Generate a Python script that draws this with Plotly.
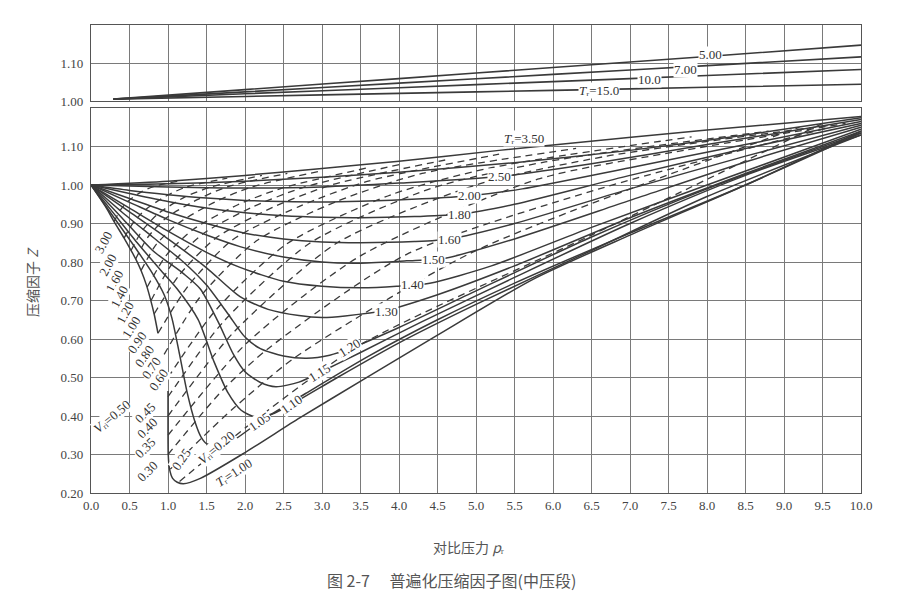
import plotly.graph_objects as go

# ---------------- data ----------------
x_tick_vals = [0.0, 0.5, 1.0, 1.5, 2.0, 2.5, 3.0, 3.5, 4.0, 4.5, 5.0, 5.5, 6.0, 6.5, 7.0, 7.5, 8.0, 8.5, 9.0, 9.5, 10.0]
x_tick_text = ["0.0", "0.5", "1.0", "1.5", "2.0", "2.5", "3.0", "3.5", "4.0", "4.5", "5.0", "5.5", "6.0", "6.5", "7.0", "7.5", "8.0", "8.5", "9.0", "9.5", "10.0"]
y_tick_vals = [0.2, 0.3, 0.4, 0.5, 0.6, 0.7, 0.8, 0.9, 1.0, 1.1]
y_tick_text = ["0.20", "0.30", "0.40", "0.50", "0.60", "0.70", "0.80", "0.90", "1.00", "1.10"]
y2_tick_vals = [1.0, 1.1]
y2_tick_text = ["1.00", "1.10"]

# upper panel: high reduced temperatures
top_pr = [0.29, 2.0, 4.0, 6.0, 8.0, 10.0]
top_tr500 = [1.005, 1.030, 1.059, 1.088, 1.117, 1.147]
top_tr700 = [1.005, 1.024, 1.047, 1.070, 1.093, 1.116]
top_tr1000 = [1.005, 1.019, 1.035, 1.051, 1.067, 1.083]
top_tr1500 = [1.005, 1.012, 1.020, 1.028, 1.036, 1.044]

# lower panel: isotherms (solid)
tr100_pr = [0, 0.2, 0.3, 0.43, 0.52, 0.58, 0.65, 0.72, 0.77, 0.82, 0.87, None,
            1.0, 1.0, 1.003, 1.02, 1.06, 1.12, 1.2, 1.42, 2.0, 2.71, 3.54, 4.5, 5.74, 7.0, 8.5, 10.0]
tr100_z = [1.0, 0.94, 0.905, 0.862, 0.83, 0.808, 0.778, 0.74, 0.705, 0.665, 0.615, None,
           0.465, 0.37, 0.3, 0.262, 0.238, 0.228, 0.224, 0.238, 0.305, 0.395, 0.495, 0.61, 0.755, 0.87, 1.0, 1.14]
tr105_pr = [0, 0.3, 0.6, 0.8, 0.95, 1.05, 1.15, 1.25, 1.35, 1.43, 1.5, 1.65, 1.85, 2.19, 2.8, 3.6, 4.5, 5.5, 7.0, 8.5, 10.0]
tr105_z = [1.0, 0.915, 0.83, 0.77, 0.715, 0.655, 0.56, 0.46, 0.385, 0.345, 0.328, 0.322, 0.337, 0.385, 0.46, 0.555, 0.65, 0.745, 0.875, 1.0, 1.135]
tr110_pr = [0, 0.3, 0.6, 0.9, 1.12, 1.39, 1.6, 1.78, 1.95, 2.13, 2.35, 2.6, 3.2, 4.0, 5.0, 6.5, 8.0, 10.0]
tr110_z = [1.0, 0.925, 0.85, 0.78, 0.73, 0.651, 0.54, 0.46, 0.415, 0.398, 0.405, 0.43, 0.5, 0.59, 0.69, 0.83, 0.97, 1.13]
tr115_pr = [0, 0.4, 0.8, 1.2, 1.42, 1.65, 1.85, 2.0, 2.2, 2.4, 2.7, 2.97, 3.5, 4.3, 5.5, 7.0, 8.5, 10.0]
tr115_z = [1.0, 0.915, 0.83, 0.77, 0.73, 0.645, 0.56, 0.515, 0.487, 0.476, 0.488, 0.513, 0.565, 0.645, 0.76, 0.9, 1.025, 1.13]
tr120_pr = [0, 0.4, 0.8, 1.2, 1.5, 1.78, 2.0, 2.2, 2.5, 2.8, 3.1, 3.36, 4.0, 5.0, 6.5, 8.0, 10.0]
tr120_z = [1.0, 0.93, 0.865, 0.8, 0.74, 0.665, 0.605, 0.575, 0.556, 0.55, 0.558, 0.575, 0.63, 0.725, 0.865, 0.99, 1.135]
tr130_pr = [0, 0.5, 1.0, 1.5, 1.935, 2.3, 2.7, 3.0, 3.3, 3.84, 4.5, 5.5, 7.0, 8.5, 10.0]
tr130_z = [1.0, 0.93, 0.86, 0.785, 0.71, 0.677, 0.661, 0.656, 0.66, 0.675, 0.715, 0.79, 0.915, 1.03, 1.14]
tr140_pr = [0, 0.5, 1.0, 1.5, 1.935, 2.5, 3.0, 3.5, 3.97, 4.4, 5.2, 6.5, 8.0, 10.0]
tr140_z = [1.0, 0.94, 0.88, 0.825, 0.786, 0.75, 0.737, 0.733, 0.737, 0.745, 0.79, 0.89, 1.0, 1.145]
tr150_pr = [0, 0.5, 1.0, 1.5, 1.935, 2.5, 3.0, 3.5, 4.1, 4.6, 5.5, 7.0, 8.5, 10.0]
tr150_z = [1.0, 0.955, 0.91, 0.87, 0.84, 0.813, 0.8, 0.797, 0.803, 0.81, 0.86, 0.96, 1.06, 1.15]
tr160_pr = [0, 0.5, 1.0, 1.5, 2.0, 2.5, 3.0, 3.5, 4.2, 4.66, 5.5, 7.0, 8.5, 10.0]
tr160_z = [1.0, 0.965, 0.93, 0.9, 0.875, 0.86, 0.852, 0.85, 0.853, 0.86, 0.9, 0.99, 1.075, 1.155]
tr180_pr = [0, 0.5, 1.0, 1.5, 2.0, 2.5, 3.0, 3.5, 4.2, 4.79, 5.5, 7.0, 8.5, 10.0]
tr180_z = [1.0, 0.978, 0.957, 0.94, 0.928, 0.92, 0.916, 0.915, 0.918, 0.924, 0.95, 1.025, 1.095, 1.16]
tr200_pr = [0, 0.5, 1.0, 1.5, 2.0, 2.5, 3.0, 3.5, 4.3, 4.92, 5.6, 7.0, 8.5, 10.0]
tr200_z = [1.0, 0.986, 0.975, 0.966, 0.96, 0.957, 0.956, 0.958, 0.964, 0.972, 0.99, 1.045, 1.105, 1.165]
tr250_pr = [0, 1.0, 2.0, 3.0, 4.0, 5.31, 6.5, 8.0, 10.0]
tr250_z = [1.0, 0.995, 0.992, 0.995, 1.005, 1.022, 1.055, 1.105, 1.17]
tr300_pr = [0, 1.0, 2.0, 3.0, 4.0, 5.5, 7.0, 8.5, 10.0]
tr300_z = [1.0, 1.003, 1.01, 1.02, 1.033, 1.058, 1.09, 1.13, 1.175]
tr350_pr = [0, 1.0, 2.0, 3.0, 4.0, 5.3, 6.0, 8.0, 10.0]
tr350_z = [1.0, 1.01, 1.025, 1.043, 1.062, 1.09, 1.104, 1.143, 1.178]

# lower panel: ideal reduced volume lines (dashed)
vr300_pr = [0.3, 0.375, 0.48, 0.66, 0.83, 1.18]
vr300_z = [0.905, 0.933, 0.958, 0.983, 0.997, 1.012]
vr200_pr = [0.43, 0.54, 0.7, 0.98, 1.24, 1.77]
vr200_z = [0.862, 0.9, 0.935, 0.972, 0.995, 1.018]
vr160_pr = [0.52, 0.66, 0.87, 1.21, 1.56, 2.22]
vr160_z = [0.83, 0.88, 0.925, 0.968, 0.995, 1.025]
vr140_pr = [0.58, 0.74, 0.98, 1.38, 1.78, 2.55]
vr140_z = [0.808, 0.865, 0.915, 0.962, 0.996, 1.03]
vr120_pr = [0.65, 0.845, 1.13, 1.6, 2.07, 2.98]
vr120_z = [0.778, 0.845, 0.9, 0.955, 0.994, 1.036]
vr100_pr = [0.73, 0.98, 1.33, 1.9, 2.48, 3.6]
vr100_z = [0.735, 0.818, 0.885, 0.948, 0.992, 1.045]
vr090_pr = [0.78, 1.06, 1.46, 2.1, 2.76, 4.05]
vr090_z = [0.70, 0.797, 0.874, 0.943, 0.994, 1.055]
vr080_pr = [0.82, 1.15, 1.62, 2.36, 3.12, 4.6]
vr080_z = [0.665, 0.767, 0.862, 0.942, 1.0, 1.065]
vr070_pr = [0.87, 1.27, 1.84, 2.7, 3.6, 5.3]
vr070_z = [0.615, 0.74, 0.858, 0.944, 1.01, 1.08]
vr060_pr = [0.95, 1.42, 2.15, 3.2, 4.3, 6.3]
vr060_z = [0.56, 0.71, 0.855, 0.958, 1.03, 1.095]
vr050_pr = [1.0, 1.62, 2.55, 3.9, 5.2, 7.8]
vr050_z = [0.50, 0.675, 0.848, 0.975, 1.045, 1.125]
vr045_pr = [1.0, 1.72, 2.85, 4.4, 5.9, 8.8]
vr045_z = [0.45, 0.645, 0.85, 0.99, 1.06, 1.14]
vr040_pr = [1.0, 1.85, 3.2, 5.0, 6.7, 9.6]
vr040_z = [0.40, 0.617, 0.85, 1.0, 1.075, 1.155]
vr035_pr = [1.0, 2.02, 3.5, 5.8, 7.7, 9.8]
vr035_z = [0.35, 0.589, 0.816, 1.015, 1.09, 1.16]
vr030_pr = [1.0, 1.7, 2.3, 4.1, 6.6, 9.6]
vr030_z = [0.30, 0.465, 0.575, 0.82, 0.99, 1.15]
vr025_pr = [1.03, 1.45, 1.85, 2.65, 4.95, 9.2]
vr025_z = [0.262, 0.345, 0.42, 0.552, 0.825, 1.15]
vr020_pr = [1.15, 2.2, 3.5, 6.5, 9.5]
vr020_z = [0.23, 0.40, 0.585, 0.87, 1.16]

# curve labels: (text, pr, Z, angle)
TR = "<i>T</i>ᵣ"
VR = "<i>V</i>ᵣᵢ"
top_labels = [("5.00", 8.04, 1.122, 0), ("7.00", 7.72, 1.083, 0),
              ("10.0", 7.25, 1.057, 0), (TR + "=15.0", 6.6, 1.027, 0)]
tr_labels = [(TR + "=3.50", 5.62, 1.12, 0), ("2.50", 5.31, 1.023, 0), ("2.00", 4.92, 0.972, 0),
             ("1.80", 4.79, 0.924, 0), ("1.60", 4.66, 0.859, 0), ("1.50", 4.45, 0.807, 0),
             ("1.40", 4.18, 0.742, 0), ("1.30", 3.84, 0.672, 0), ("1.20", 3.36, 0.578, -32),
             ("1.15", 2.97, 0.513, -32), ("1.10", 2.6, 0.43, -35), ("1.05", 2.19, 0.386, -35),
             (TR + "=1.00", 1.86, 0.252, -33)]
vr_labels = [("3.00", 0.16, 0.851, -62), ("2.00", 0.22, 0.794, -62), ("1.60", 0.30, 0.75, -62),
             ("1.40", 0.37, 0.71, -62), ("1.20", 0.44, 0.67, -62), ("1.00", 0.52, 0.63, -58),
             ("0.90", 0.60, 0.59, -55), ("0.80", 0.69, 0.555, -55), ("0.70", 0.79, 0.525, -55),
             ("0.60", 0.88, 0.495, -55), (VR + "=0.50", 0.27, 0.40, -40), ("0.45", 0.71, 0.408, -45),
             ("0.40", 0.74, 0.369, -45), ("0.35", 0.71, 0.317, -45), ("0.30", 0.73, 0.256, -45),
             ("0.25", 1.17, 0.287, -55), (VR + "=0.20", 1.63, 0.317, -40)]

# ---------------- figure ----------------
INK = "#3a3a3a"
fig = go.Figure()

def solid(x, y, xa="x", ya="y", w=1.5):
    fig.add_trace(go.Scatter(x=x, y=y, mode="lines", xaxis=xa, yaxis=ya, hoverinfo="skip",
                             line=dict(color=INK, width=w, shape="spline", smoothing=0.7),
                             showlegend=False))

def dashed(x, y):
    fig.add_trace(go.Scatter(x=x, y=y, mode="lines", xaxis="x", yaxis="y", hoverinfo="skip",
                             line=dict(color=INK, width=1.3, dash="7px,5px", shape="spline", smoothing=0.7),
                             showlegend=False))

for z in [top_tr500, top_tr700, top_tr1000, top_tr1500]:
    solid(top_pr, z, "x2", "y2", 1.6)

for px, pz in [(vr300_pr, vr300_z), (vr200_pr, vr200_z), (vr160_pr, vr160_z), (vr140_pr, vr140_z),
               (vr120_pr, vr120_z), (vr100_pr, vr100_z), (vr090_pr, vr090_z), (vr080_pr, vr080_z),
               (vr070_pr, vr070_z), (vr060_pr, vr060_z), (vr050_pr, vr050_z), (vr045_pr, vr045_z),
               (vr040_pr, vr040_z), (vr035_pr, vr035_z), (vr030_pr, vr030_z), (vr025_pr, vr025_z),
               (vr020_pr, vr020_z)]:
    dashed(px, pz)

for px, pz in [(tr100_pr, tr100_z), (tr105_pr, tr105_z), (tr110_pr, tr110_z), (tr115_pr, tr115_z),
               (tr120_pr, tr120_z), (tr130_pr, tr130_z), (tr140_pr, tr140_z), (tr150_pr, tr150_z),
               (tr160_pr, tr160_z), (tr180_pr, tr180_z), (tr200_pr, tr200_z), (tr250_pr, tr250_z),
               (tr300_pr, tr300_z), (tr350_pr, tr350_z)]:
    solid(px, pz)

SERIF = "Liberation Serif, DejaVu Serif"
ann = []
def lab(t, x, y, ang, xr="x", yr="y"):
    ann.append(dict(text=t, x=x, y=y, xref=xr, yref=yr, showarrow=False, textangle=ang,
                    xanchor="center", yanchor="middle",
                    font=dict(family=SERIF, size=13, color="#333"), bgcolor="white", borderpad=0))

for t, x, y, a in top_labels:
    lab(t, x, y, a, "x2", "y2")
for t, x, y, a in tr_labels + vr_labels:
    lab(t, x, y, a)

CJK = "Noto Sans CJK SC"
ann.append(dict(text="压缩因子 <i>Z</i>", x=-0.076, y=0.452, xref="paper", yref="paper", showarrow=False,
                xanchor="center", yanchor="middle",
                textangle=-90, font=dict(family=CJK, size=14, color="#555")))
ann.append(dict(text="对比压力 <i>p</i>ᵣ", x=0.49, y=-0.115, xref="paper", yref="paper",
                xanchor="center", yanchor="middle",
                showarrow=False, font=dict(family=CJK, size=14, color="#555")))
ann.append(dict(text="图 2-7　 普遍化压缩因子图(中压段)", x=0.468, y=-0.186, xref="paper", yref="paper",
                xanchor="center", yanchor="middle",
                showarrow=False, font=dict(family=CJK, size=16, color="#555")))

grid = "#7a7a7a"
axis_common = dict(showgrid=True, gridcolor=grid, gridwidth=1, zeroline=False, showline=True,
                   mirror=True, linecolor="#555", linewidth=1.2, ticks="",
                   tickfont=dict(family=SERIF, size=13, color="#444"))
fig.update_layout(
    width=918, height=601, paper_bgcolor="white", plot_bgcolor="white",
    margin=dict(l=91, r=57, t=25, b=108),
    xaxis=dict(domain=[0, 1], range=[0, 10], anchor="y", tickvals=x_tick_vals, ticktext=x_tick_text,
               **axis_common),
    yaxis=dict(domain=[0, 0.8226], range=[0.2, 1.2], anchor="x", tickvals=y_tick_vals,
               ticktext=y_tick_text, ticklabelstandoff=4, **axis_common),
    xaxis2=dict(domain=[0, 1], range=[0, 10], anchor="y2", matches="x", tickvals=x_tick_vals,
                showticklabels=False, **axis_common),
    yaxis2=dict(domain=[0.8376, 1], range=[1.0, 1.2], anchor="x2", tickvals=y2_tick_vals,
                ticktext=y2_tick_text, ticklabelstandoff=4, **axis_common),
    annotations=ann,
)

fig.write_html("out.html")
